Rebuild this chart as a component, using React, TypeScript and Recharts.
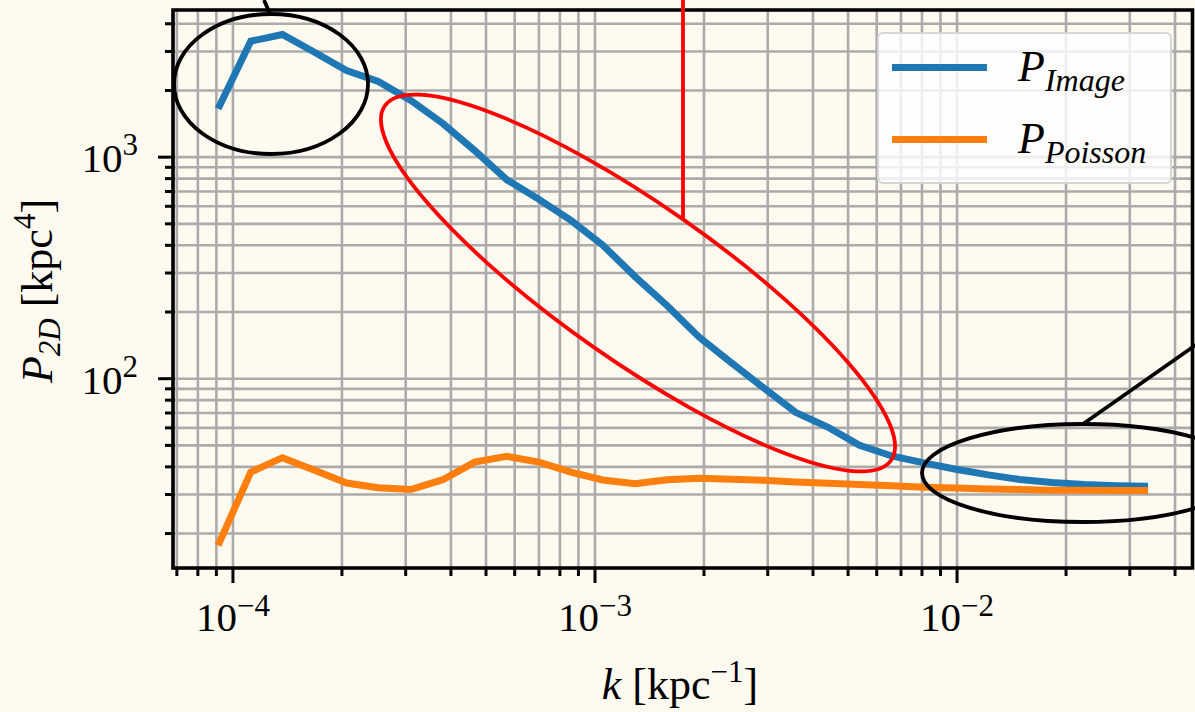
import React from 'react';
import { LineChart, Line, XAxis, YAxis, CartesianGrid, Legend, ReferenceArea } from 'recharts';

// wavenumber bins [kpc^-1]
const kValues = [
  9.1e-5, 1.12e-4, 1.37e-4, 1.68e-4, 2.06e-4, 2.52e-4, 3.1e-4, 3.8e-4, 4.65e-4, 5.71e-4,
  7.0e-4, 8.58e-4, 1.05e-3, 1.29e-3, 1.58e-3, 1.94e-3, 2.38e-3, 2.92e-3, 3.58e-3, 4.39e-3,
  5.38e-3, 6.6e-3, 8.09e-3, 9.92e-3, 1.22e-2, 1.49e-2, 1.83e-2, 2.24e-2, 2.75e-2, 3.37e-2,
];

// P_Image
const imagePower = [
  1654, 3338, 3579, 2977, 2461, 2196, 1803, 1419, 1072, 790,
  645, 518, 401, 289, 214, 154, 118, 91, 70.5, 60.5,
  50, 44.8, 41.7, 39, 36.8, 35.1, 34.0, 33.3, 32.9, 32.7,
];

// P_Poisson
const poissonPower = [
  17.7, 37.9, 44.0, 38.6, 33.8, 32.2, 31.6, 35.0, 42.0, 44.6,
  42.0, 37.9, 34.9, 33.6, 35.0, 35.5, 35.2, 34.8, 34.2, 33.7,
  33.3, 32.9, 32.4, 32.1, 31.8, 31.6, 31.4, 31.4, 31.3, 31.3,
];

const xDomain = [6.83e-5, 0.0447];
const yDomain = [13.98, 4616];

const xTicks = [
  7e-5, 8e-5, 9e-5, 1e-4, 2e-4, 3e-4, 4e-4, 5e-4, 6e-4, 7e-4, 8e-4, 9e-4,
  1e-3, 2e-3, 3e-3, 4e-3, 5e-3, 6e-3, 7e-3, 8e-3, 9e-3, 1e-2, 2e-2, 3e-2, 4e-2,
];
const yTicks = [20, 30, 40, 50, 60, 70, 80, 90, 100, 200, 300, 400, 500, 600, 700, 800, 900, 1000, 2000, 3000, 4000];

const data = kValues.map((k, i) => ({ k, image: imagePower[i], poisson: poissonPower[i] }));

const BG = '#fefaf0';
const FONT = '"Liberation Serif", "DejaVu Serif", serif';

const isDecade = (v: number) => Math.abs(Math.log10(v) - Math.round(Math.log10(v))) < 1e-9;

const XTick = (props: any) => {
  const { x, y, payload } = props;
  const major = isDecade(payload.value);
  const exp = Math.round(Math.log10(payload.value));
  return (
    <g>
      <line x1={x} x2={x} y1={y} y2={y + (major ? 15 : 8)} stroke="#000" strokeWidth={3} />
      {major && (
        <text x={x} y={y + 63} textAnchor="middle" fontFamily={FONT} fontSize={41} fill="#000">
          10
          <tspan dy={-15} fontSize={31}>{'\u2212' + -exp}</tspan>
        </text>
      )}
    </g>
  );
};

const YTick = (props: any) => {
  const { x, y, payload } = props;
  const major = isDecade(payload.value);
  const exp = Math.round(Math.log10(payload.value));
  return (
    <g>
      <line x1={x - (major ? 15 : 8)} x2={x} y1={y} y2={y} stroke="#000" strokeWidth={3} />
      {major && (
        <text x={x - 35} y={y + 15} textAnchor="end" fontFamily={FONT} fontSize={41} fill="#000">
          10
          <tspan dy={-17} fontSize={31}>{exp}</tspan>
        </text>
      )}
    </g>
  );
};

const LegendBox = (props: any) => {
  const items = props.payload || [];
  return (
    <div
      style={{
        position: 'relative',
        width: 291,
        height: 148,
        background: 'rgba(255,255,255,0.8)',
        border: '2px solid rgba(204,204,204,0.8)',
        borderRadius: 6,
        fontFamily: FONT,
      }}
    >
      {items.map((it: any, i: number) => (
        <div key={it.value} style={{ position: 'absolute', left: 0, top: 10 + i * 72, height: 50, width: '100%' }}>
          <div style={{ position: 'absolute', left: 13, top: 20, width: 95, height: 7, background: it.color }} />
          <div style={{ position: 'absolute', left: 139, top: 0, fontSize: 44, fontStyle: 'italic', color: '#000', lineHeight: '46px', whiteSpace: 'nowrap' }}>
            P<span style={{ fontSize: 32, position: 'relative', top: 10 }}>{it.value}</span>
          </div>
        </div>
      ))}
    </div>
  );
};

export default function App() {
  return (
    <div style={{ position: 'fixed', left: 0, top: 0, width: 1195, height: 712, background: BG, overflow: 'hidden' }}>
      <LineChart width={1195} height={712} data={data} margin={{ top: 10, right: 2.5, bottom: 0, left: 0 }}>
        <CartesianGrid stroke="#ababab" strokeWidth={2.6} />
        <XAxis
          dataKey="k"
          type="number"
          scale="log"
          domain={xDomain}
          ticks={xTicks}
          allowDataOverflow
          height={144}
          axisLine={false}
          tickLine={false}
          tickSize={0}
          tickMargin={0}
          tick={<XTick />}
          interval={0}
        />
        <YAxis
          type="number"
          scale="log"
          domain={yDomain}
          ticks={yTicks}
          allowDataOverflow
          width={173}
          axisLine={false}
          tickLine={false}
          tickSize={0}
          tickMargin={0}
          tick={<YTick />}
          interval={0}
        />
        <Line dataKey="image" name="Image" stroke="#1f77b4" strokeWidth={7} dot={false} isAnimationActive={false} />
        <Line dataKey="poisson" name="Poisson" stroke="#ff7f0e" strokeWidth={7} dot={false} isAnimationActive={false} />
        <ReferenceArea x1={xDomain[0]} x2={xDomain[1]} y1={yDomain[0]} y2={yDomain[1]} fill="none" stroke="#000" strokeWidth={3.6} />
        <Legend
          layout="vertical"
          align="center"
          verticalAlign="middle"
          content={<LegendBox />}
          wrapperStyle={{ top: 32, left: 877, width: 295, height: 152 }}
        />
      </LineChart>
      <svg width={1195} height={712} style={{ position: 'absolute', left: 0, top: 0, pointerEvents: 'none' }}>
        <ellipse cx={271} cy={84} rx={97} ry={70} fill="none" stroke="#000" strokeWidth={3.8} />
        <line x1={270} y1={14} x2={264} y2={0} stroke="#000" strokeWidth={3.8} />
        <ellipse cx={638} cy={283} rx={309} ry={78} transform="rotate(35 638 283)" fill="none" stroke="#ff0000" strokeWidth={3.8} />
        <line x1={683} y1={0} x2={683} y2={219} stroke="#ff0000" strokeWidth={3.8} />
        <ellipse cx={1083} cy={473} rx={161} ry={49} fill="none" stroke="#000" strokeWidth={3.8} />
        <line x1={1083} y1={424} x2={1200} y2={342} stroke="#000" strokeWidth={3.8} />
        <text x={680} y={699} textAnchor="middle" fontFamily={FONT} fontSize={44} fill="#000">
          <tspan fontStyle="italic">k</tspan>
          <tspan> [kpc</tspan>
          <tspan dy={-17} fontSize={31}>{'\u22121'}</tspan>
          <tspan dy={17}>]</tspan>
        </text>
        <text x={52} y={291} transform="rotate(-90 52 291)" textAnchor="middle" fontFamily={FONT} fontSize={44} fill="#000">
          <tspan fontStyle="italic">P</tspan>
          <tspan fontStyle="italic" fontSize={31} dy={8}>2D</tspan>
          <tspan dy={-8}> [kpc</tspan>
          <tspan dy={-17} fontSize={31}>4</tspan>
          <tspan dy={17}>]</tspan>
        </text>
      </svg>
    </div>
  );
}
